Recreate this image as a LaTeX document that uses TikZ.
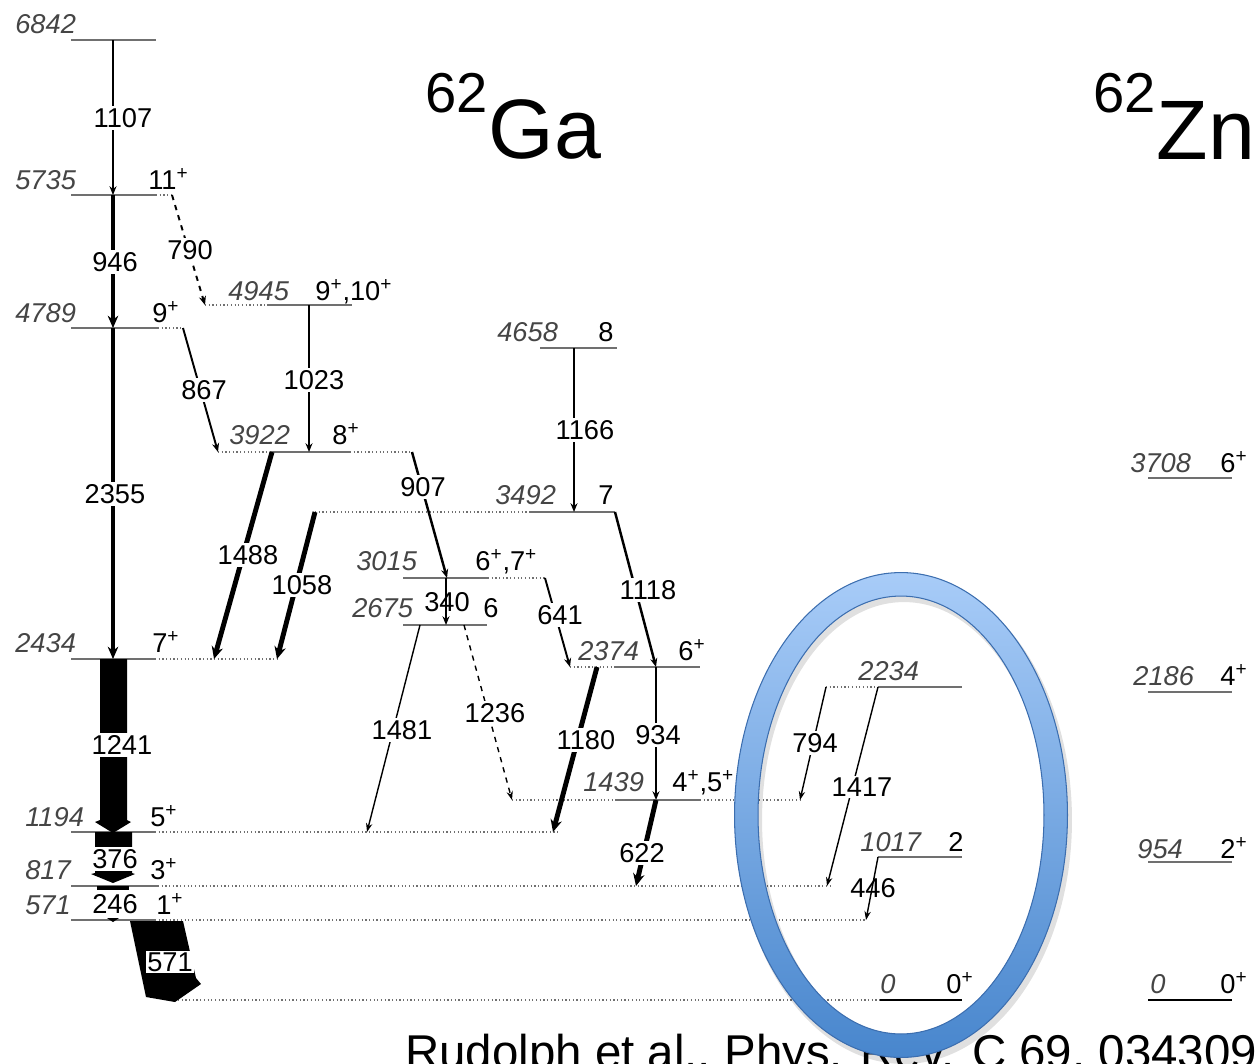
\documentclass[tikz,border=0pt]{standalone}
\usepackage{fontspec}
\setmainfont{Liberation Sans}
\usetikzlibrary{arrows.meta}
\definecolor{lvlgray}{HTML}{707070}
\definecolor{txtgray}{HTML}{454545}
\definecolor{ringtop}{RGB}{168,204,248}
\definecolor{ringbot}{RGB}{72,134,205}
\definecolor{ringedge}{RGB}{60,110,175}
\begin{document}
\begin{tikzpicture}[x=0.02cm,y=-0.02cm,
  lvl/.style={draw=lvlgray,line width=1.2pt},
  dotl/.style={draw=lvlgray,line width=0.7pt,dash pattern=on 0.7pt off 1.4pt},
  tr/.style={draw=black,line width=1.1pt,-{Stealth[length=5pt,width=4pt]}},
  trthin/.style={draw=black,line width=0.8pt,-{Stealth[length=5pt,width=3.6pt]}},
  trthick/.style={draw=black,line width=2.8pt,-{Stealth[length=7pt,width=6.5pt]}},
  band/.style={fill=black,draw=none},
  lev/.style={anchor=base west,inner sep=0pt,font=\fontsize{15.5}{16}\selectfont\itshape,text=txtgray},
  spin/.style={anchor=base west,inner sep=0pt,font=\fontsize{15.5}{16}\selectfont},
  tl/.style={fill=white,inner sep=1.2pt,font=\fontsize{15.5}{16}\selectfont},
]
\useasboundingbox (0,0) rectangle (1258,1063);

% ---------- level coordinates ----------
\coordinate (a6842) at (71,40);   \coordinate (b6842) at (156,40);
\coordinate (a5735) at (71,195);  \coordinate (b5735) at (156,195); \coordinate (c5735) at (172,195);
\coordinate (a4789) at (71,328);  \coordinate (b4789) at (158,328); \coordinate (c4789) at (183,328);
\coordinate (d4945) at (205,305); \coordinate (a4945) at (267,305); \coordinate (b4945) at (352,305);
\coordinate (a4658) at (540,348); \coordinate (b4658) at (617,348);
\coordinate (d3922) at (218,452); \coordinate (a3922) at (270,452); \coordinate (b3922) at (350,452); \coordinate (c3922) at (412,452);
\coordinate (d3492) at (315,512); \coordinate (a3492) at (530,512); \coordinate (b3492) at (615,512);
\coordinate (a3015) at (403,578); \coordinate (b3015) at (488,578); \coordinate (c3015) at (545,578);
\coordinate (a2675) at (403,625); \coordinate (b2675) at (487,625);
\coordinate (a2434) at (71,659);  \coordinate (b2434) at (155,659); \coordinate (c2434) at (277,659);
\coordinate (d2374) at (570,667); \coordinate (a2374) at (615,667); \coordinate (b2374) at (700,667);
\coordinate (d2234) at (826,687); \coordinate (a2234) at (878,687); \coordinate (b2234) at (962,687);
\coordinate (d1439) at (512,800); \coordinate (a1439) at (615,800); \coordinate (b1439) at (700,800); \coordinate (c1439) at (800,800);
\coordinate (a1194) at (71,832);  \coordinate (b1194) at (155,832); \coordinate (c1194) at (560,832);
\coordinate (a1017) at (878,857); \coordinate (b1017) at (962,857);
\coordinate (a817) at (71,886);   \coordinate (b817) at (158,886);  \coordinate (c817) at (830,886);
\coordinate (a571) at (71,920);   \coordinate (b571) at (155,920);  \coordinate (c571) at (866,920);
\coordinate (d0) at (178,1000);   \coordinate (a0) at (880,1000);   \coordinate (b0) at (962,1000);
\coordinate (za3708) at (1148,478); \coordinate (zb3708) at (1232,478);
\coordinate (za2186) at (1148,692); \coordinate (zb2186) at (1232,692);
\coordinate (za954) at (1148,862);  \coordinate (zb954) at (1232,862);
\coordinate (za0) at (1148,1000);   \coordinate (zb0) at (1232,1000);

% ---------- levels ----------
\draw[lvl] (a6842) -- (b6842);
\draw[lvl] (a5735) -- (b5735); \draw[dotl] (b5735) -- (c5735);
\draw[lvl] (a4789) -- (b4789); \draw[dotl] (b4789) -- (c4789);
\draw[dotl] (d4945) -- (a4945); \draw[lvl] (a4945) -- (b4945);
\draw[lvl] (a4658) -- (b4658);
\draw[dotl] (d3922) -- (a3922); \draw[lvl] (a3922) -- (b3922); \draw[dotl] (b3922) -- (c3922);
\draw[dotl] (d3492) -- (a3492); \draw[lvl] (a3492) -- (b3492);
\draw[lvl] (a3015) -- (b3015); \draw[dotl] (b3015) -- (c3015);
\draw[lvl] (a2675) -- (b2675);
\draw[lvl] (a2434) -- (b2434); \draw[dotl] (b2434) -- (c2434);
\draw[dotl] (d2374) -- (a2374); \draw[lvl] (a2374) -- (b2374);
\draw[dotl] (d2234) -- (a2234); \draw[lvl] (a2234) -- (b2234);
\draw[dotl] (d1439) -- (a1439); \draw[lvl] (a1439) -- (b1439); \draw[dotl] (b1439) -- (c1439);
\draw[lvl] (a1194) -- (b1194); \draw[dotl] (b1194) -- (c1194);
\draw[lvl] (a1017) -- (b1017);
\draw[lvl] (a817) -- (b817); \draw[dotl] (b817) -- (c817);
\draw[lvl] (a571) -- (b571); \draw[dotl] (b571) -- (c571);
\draw[dotl] (d0) -- (a0); \draw[lvl,draw=black] (a0) -- (b0);
\draw[lvl] (za3708) -- (zb3708);
\draw[lvl] (za2186) -- (zb2186);
\draw[lvl] (za954) -- (zb954);
\draw[lvl,draw=black] (za0) -- (zb0);

% ---------- transition end points ----------
\coordinate (t1107a) at (113,40);  \coordinate (t1107b) at (113,195);
\coordinate (t946a) at (113,195);  \coordinate (t946b) at (113,328);
\coordinate (t2355a) at (113,328); \coordinate (t2355b) at (113,659);
\coordinate (t1023a) at (309,305); \coordinate (t1023b) at (309,452);
\coordinate (t1166a) at (574,348); \coordinate (t1166b) at (574,512);
\coordinate (t1488a) at (272,452); \coordinate (t1488b) at (214,659);
\coordinate (t1058b) at (277,659);
\coordinate (t340a) at (446,578);  \coordinate (t340b) at (446,625);
\coordinate (t907b) at (447,578);
\coordinate (t1481a) at (420,625); \coordinate (t1481b) at (367,832);
\coordinate (t1236a) at (464,625);
\coordinate (t1118b) at (656,667);
\coordinate (t1180a) at (597,667); \coordinate (t1180b) at (553,832);
\coordinate (t934a) at (656,667);  \coordinate (t934b) at (656,800);
\coordinate (t622a) at (656,800);  \coordinate (t622b) at (636,886);
\coordinate (t1417b) at (827,886);
\coordinate (t446b) at (866,920);

% ---------- transitions ----------
\draw[tr] (t1107a) -- (t1107b);
\draw[draw=black,line width=2.8pt,-{Stealth[length=7pt,width=6pt]}] (t946a) -- (t946b);
\draw[draw=black,line width=2.2pt,-{Stealth[length=7pt,width=6pt]}] (t2355a) -- (t2355b);
\draw[tr,dashed] (c5735) -- (d4945);
\draw[tr] (c4789) -- (d3922);
\draw[tr,line width=1.4pt] (t1023a) -- (t1023b);
\draw[tr,line width=1.4pt] (t1166a) -- (t1166b);
\draw[trthick] (t1488a) -- (t1488b);
\draw[trthick] (d3492) -- (t1058b);
\draw[tr,line width=1.4pt] (c3922) -- (t907b);
\draw[tr,line width=1.4pt] (b3492) -- (t1118b);
\draw[tr] (c3015) -- (d2374);
\draw[tr] (t340a) -- (t340b);
\draw[trthin] (t1481a) -- (t1481b);
\draw[trthin,dashed] (t1236a) -- (d1439);
\draw[trthick] (t1180a) -- (t1180b);
\draw[tr] (t934a) -- (t934b);
\draw[trthick] (t622a) -- (t622b);
\draw[trthin] (d2234) -- (c1439);
\draw[trthin] (a2234) -- (t1417b);
\draw[trthin] (a1017) -- (t446b);

% 1241 band
\fill[band] (100,659) -- (127,659) -- (127,820) -- (131,822) -- (113,833) -- (95,822) -- (100,820) -- cycle;
% 376 band
\fill[band] (95,832) -- (132,832) -- (132,873) -- (135,874) -- (113,883) -- (91,874) -- (95,873) -- cycle;
% 246 band
\fill[band] (97,886) -- (129,886) -- (129,890) -- (97,890) -- cycle;
\fill[band] (107,918) -- (119,918) -- (113,922) -- cycle;
% 571 band
\fill[band] (130,921) -- (183,921) -- (196,978) -- (201,984) -- (175,1002) -- (146,997) -- cycle;

% ---------- transition labels ----------
\node[tl] (l1107) at (123,118) {1107};
\node[tl] (l946) at (115,262) {946};
\node[tl] (l790) at (190,250) {790};
\node[tl] (l2355) at (115,494) {2355};
\node[tl] (l867) at (204,390) {867};
\node[tl] (l1023) at (314,380) {1023};
\node[tl] (l1166) at (585,430) {1166};
\node[tl] (l907) at (423,487) {907};
\node[tl] (l1488) at (248,555) {1488};
\node[tl] (l1058) at (302,585) {1058};
\node[tl] (l1118) at (648,590) {1118};
\node[tl] (l641) at (560,615) {641};
\node[tl,fill=none] (l340) at (447,602) {340};
\node[tl] (l1241) at (122,745) {1241};
\node[tl] (l1481) at (402,730) {1481};
\node[tl] (l1236) at (495,713) {1236};
\node[tl] (l1180) at (586,740) {1180};
\node[tl] (l934) at (658,735) {934};
\node[tl] (l794) at (815,743) {794};
\node[tl] (l1417) at (862,787) {1417};
\node[tl] (l622) at (642,853) {622};
\node[tl,fill=none] (l446) at (873,888) {446};
\node[tl] (l376) at (115,859) {376};
\node[tl,inner ysep=0.5pt] (l246) at (115,904) {246};
\node[tl,inner sep=0.6pt] (l571) at (170,962) {571};

% ---------- level labels ----------
\node[lev] (e6842) at (15,33) {6842};
\node[lev] (e5735) at (15,189) {5735};
\node[spin] (s5735) at (148,189) {11\textsuperscript{+}};
\node[lev] (e4789) at (15,322) {4789};
\node[spin] (s4789) at (152,322) {9\textsuperscript{+}};
\node[lev] (e4945) at (228,300) {4945};
\node[spin] (s4945) at (315,300) {9\textsuperscript{+},10\textsuperscript{+}};
\node[lev] (e4658) at (497,341) {4658};
\node[spin] (s4658) at (598,341) {8};
\node[lev] (e3922) at (229,444) {3922};
\node[spin] (s3922) at (332,444) {8\textsuperscript{+}};
\node[lev] (e3492) at (495,504) {3492};
\node[spin] (s3492) at (598,504) {7};
\node[lev] (e3015) at (356,570) {3015};
\node[spin] (s3015) at (475,570) {6\textsuperscript{+},7\textsuperscript{+}};
\node[lev] (e2675) at (352,617) {2675};
\node[spin] (s2675) at (483,617) {6};
\node[lev] (e2434) at (15,652) {2434};
\node[spin] (s2434) at (152,652) {7\textsuperscript{+}};
\node[lev] (e2374) at (578,660) {2374};
\node[spin] (s2374) at (678,660) {6\textsuperscript{+}};
\node[lev] (e2234) at (858,680) {2234};
\node[lev] (e1439) at (583,791) {1439};
\node[spin] (s1439) at (672,791) {4\textsuperscript{+},5\textsuperscript{+}};
\node[lev] (e1194) at (25,826) {1194};
\node[spin] (s1194) at (150,826) {5\textsuperscript{+}};
\node[lev] (e1017) at (860,851) {1017};
\node[spin] (s1017) at (948,851) {2};
\node[lev] (e817) at (25,879) {817};
\node[spin] (s817) at (150,879) {3\textsuperscript{+}};
\node[lev] (e571) at (25,914) {571};
\node[spin] (s571) at (156,914) {1\textsuperscript{+}};
\node[lev] (e0) at (880,993) {0};
\node[spin] (s0) at (946,993) {0\textsuperscript{+}};
\node[lev] (ez3708) at (1130,472) {3708};
\node[spin] (sz3708) at (1220,472) {6\textsuperscript{+}};
\node[lev] (ez2186) at (1133,685) {2186};
\node[spin] (sz2186) at (1220,685) {4\textsuperscript{+}};
\node[lev] (ez954) at (1137,858) {954};
\node[spin] (sz954) at (1220,858) {2\textsuperscript{+}};
\node[lev] (ez0) at (1150,993) {0};
\node[spin] (sz0) at (1220,993) {0\textsuperscript{+}};

% ---------- titles ----------
\node[anchor=base west,inner sep=0pt,font=\fontsize{32}{32}\selectfont] (ga62) at (425,112) {62};
\node[anchor=base west,inner sep=0pt,font=\fontsize{48}{48}\selectfont] (ga) at ([yshift=-0.92cm]ga62.base east) {Ga};
\node[anchor=base west,inner sep=0pt,font=\fontsize{32}{32}\selectfont] (zn62) at (1093,112) {62};
\node[anchor=base west,inner sep=0pt,font=\fontsize{48}{48}\selectfont] (zn) at ([yshift=-0.95cm]zn62.base east) {Zn};

% ---------- reference (cut by the lower edge, as in the original) ----------
\node[anchor=base west,inner sep=0pt,font=\fontsize{27}{27}\selectfont] (ref) at (405,1068) {Rudolph et al., Phys. Rev. C 69, 034309};

% ---------- highlight ring (drawn on top) ----------
\coordinate (ec) at (901,815);
\fill[black,opacity=0.12,even odd rule] ([shift={(3,5)}]ec) ellipse [x radius=3.36cm,y radius=4.88cm] ([shift={(3,5)}]ec) ellipse [x radius=2.84cm,y radius=4.36cm];
\shade[even odd rule,top color=ringtop,bottom color=ringbot] (ec) ellipse [x radius=3.33cm,y radius=4.85cm] (ec) ellipse [x radius=2.86cm,y radius=4.38cm];
\draw[ringedge,line width=0.6pt] (ec) ellipse [x radius=3.33cm,y radius=4.85cm];
\draw[ringedge,line width=0.6pt] (ec) ellipse [x radius=2.86cm,y radius=4.38cm];
\end{tikzpicture}
\end{document}
